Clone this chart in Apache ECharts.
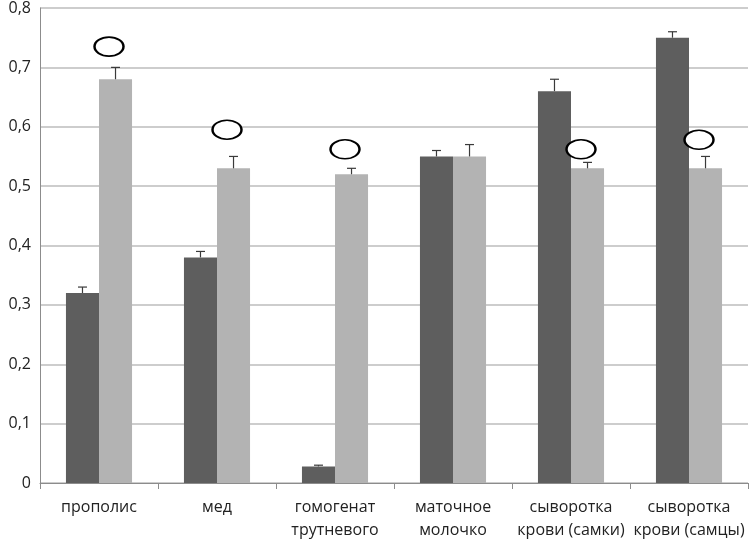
<!DOCTYPE html>
<html>
<head>
<meta charset="utf-8">
<script src="https://cdn.jsdelivr.net/npm/echarts@6/dist/echarts.min.js"></script>
<style>html,body{margin:0;padding:0;background:#fff}#c{width:749px;height:542px}</style>
</head>
<body>
<div id="c"></div>
<script>
const categories = ['прополис', 'мед', 'гомогенат\nтрутневого', 'маточное\nмолочко', 'сыворотка\nкрови (самки)', 'сыворотка\nкрови (самцы)'];
const darkValues = [0.32, 0.38, 0.028, 0.55, 0.66, 0.75];
const darkErrors = [0.01, 0.01, 0.002, 0.01, 0.02, 0.01];
const lightValues = [0.68, 0.53, 0.52, 0.55, 0.53, 0.53];
const lightErrors = [0.02, 0.02, 0.01, 0.02, 0.01, 0.02];
const markValues = [0.735, 0.595, 0.562, null, 0.562, 0.578];
const yTicks = [0, 0.1, 0.2, 0.3, 0.4, 0.5, 0.6, 0.7, 0.8];

const chart = echarts.init(document.getElementById('c'));
const BAR_FRAC = 0.28;
const FONT = '"Open Sans", "Noto Sans", sans-serif';

function errSeries(values, errors, side) {
  return {
    type: 'custom',
    z: 5,
    data: values.map((v, i) => [i, v, v + errors[i]]),
    renderItem: function (params, api) {
      const idx = api.value(0);
      const p0 = api.coord([idx, api.value(1)]);
      const p1 = api.coord([idx, api.value(2)]);
      const band = api.size([1, 0])[0];
      const bw = band * BAR_FRAC;
      const x = p0[0] + side * bw / 2;
      const cap = 4.5;
      const st = { stroke: '#3a3a3a', lineWidth: 1.2 };
      return {
        type: 'group',
        children: [
          { type: 'line', shape: { x1: x, y1: p0[1], x2: x, y2: p1[1] }, style: st },
          { type: 'line', shape: { x1: x - cap, y1: p1[1], x2: x + cap, y2: p1[1] }, style: st }
        ]
      };
    }
  };
}

chart.setOption({
  animation: false,
  grid: { left: 40, right: 1, top: 5, bottom: 57, containLabel: false },
  xAxis: {
    type: 'category',
    data: categories,
    boundaryGap: true,
    axisLine: { lineStyle: { color: '#8c8c8c', width: 1 } },
    axisTick: { show: true, alignWithLabel: false, length: 6, lineStyle: { color: '#8c8c8c' } },
    axisLabel: { color: '#222', fontSize: 16, fontFamily: FONT, lineHeight: 23, margin: 13, interval: 0 }
  },
  yAxis: {
    type: 'value',
    min: 0, max: 0.8, interval: 0.1,
    axisLine: { show: true, lineStyle: { color: '#8c8c8c', width: 1 } },
    axisTick: { show: false },
    splitLine: { lineStyle: { color: '#bdbdbd', width: 1.5 } },
    axisLabel: {
      color: '#222', fontSize: 16, fontFamily: FONT, margin: 9,
      formatter: function (v) {
        const t = yTicks.find(x => Math.abs(x - v) < 1e-9);
        return t === undefined ? '' : (t === 0 ? '0' : t.toFixed(1).replace('.', ','));
      }
    }
  },
  series: [
    { type: 'bar', data: darkValues, barWidth: (BAR_FRAC * 100) + '%', barGap: '0%', itemStyle: { color: '#5e5e5e' } },
    { type: 'bar', data: lightValues, barWidth: (BAR_FRAC * 100) + '%', barGap: '0%', itemStyle: { color: '#b3b3b3' } },
    errSeries(darkValues, darkErrors, -1),
    errSeries(lightValues, lightErrors, 1),
    {
      type: 'scatter',
      z: 6,
      data: markValues.map((v, i) => v === null ? null : [i, v]),
      symbol: 'circle',
      symbolSize: [29, 19],
      symbolOffset: [10, 0],
      itemStyle: { color: '#fff', borderColor: '#000', borderWidth: 2, opacity: 1 }
    }
  ]
});
</script>
</body>
</html>
